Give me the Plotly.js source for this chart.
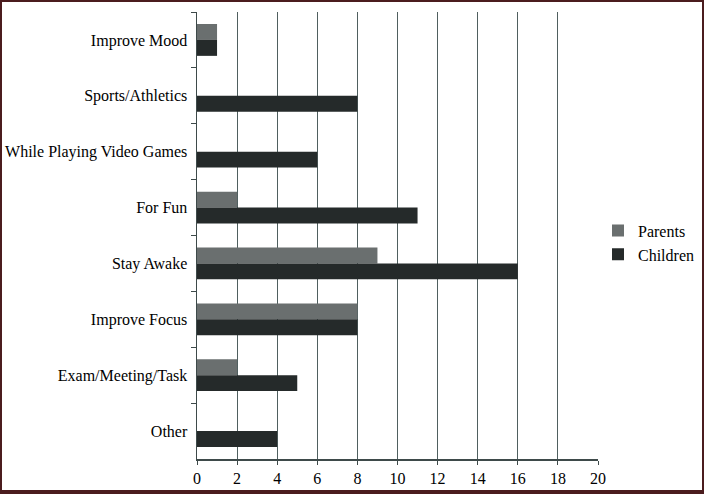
<!DOCTYPE html>
<html>
<head>
<meta charset="utf-8">
<script src="https://cdn.plot.ly/plotly-3.0.1.min.js"></script>
<style>
html,body{margin:0;padding:0;background:#fff;}
#wrap{position:relative;width:704px;height:494px;}
#chart{width:704px;height:494px;}
#frame{position:absolute;left:0;top:0;width:704px;height:494px;box-sizing:border-box;
border-style:solid;border-color:#4b1c1e;border-width:2px 2px 4px 2px;pointer-events:none;}
</style>
</head>
<body>
<div id="wrap"><div id="chart"></div><div id="frame"></div></div>
<script>
const categories = ["Improve Mood","Sports/Athletics","While Playing Video Games","For Fun","Stay Awake","Improve Focus","Exam/Meeting/Task","Other"];
const parents  = [1, 0, 0, 2, 9, 8, 2, 0];
const children = [1, 8, 6, 11, 16, 8, 5, 4];
const xTicks = [0,2,4,6,8,10,12,14,16,18,20];

const serif = "Liberation Serif, Times New Roman, serif";
const traces = [
  {type:"bar", orientation:"h", name:"Parents", y:categories, x:parents,
   marker:{color:"#6a6f6f", line:{width:0}}},
  {type:"bar", orientation:"h", name:"Children", y:categories, x:children,
   marker:{color:"#252a2a", line:{width:0}}}
];
const layout = {
  width:704, height:494,
  margin:{l:197, r:106, t:12, b:35, autoexpand:false},
  paper_bgcolor:"#fff", plot_bgcolor:"#fff",
  barmode:"group", bargap:0.43, bargroupgap:0,
  font:{family:serif, size:16, color:"#000"},
  xaxis:{range:[0,20], tickvals:xTicks, ticktext:xTicks.map(String),
    showgrid:true, gridcolor:"#4f5f5f", gridwidth:1,
    showline:true, linecolor:"#3e4a4a", linewidth:1.5,
    ticks:"outside", ticklen:4, tickcolor:"#3e4a4a",
    zeroline:false, fixedrange:true,
    tickfont:{family:serif, size:16, color:"#000"}},
  yaxis:{type:"category", autorange:"reversed",
    showline:true, linecolor:"#3e4a4a", linewidth:1.5,
    ticks:"outside", ticklen:5, tickcolor:"#3e4a4a", tickson:"boundaries",
    ticklabelstandoff:5, showgrid:false, fixedrange:true,
    tickfont:{family:serif, size:16, color:"#000"}},
  legend:{x:1.0, xanchor:"left", y:0.484, yanchor:"middle",
    font:{family:serif, size:16, color:"#000"}, itemwidth:30,
    bgcolor:"rgba(0,0,0,0)", tracegroupgap:0},
  showlegend:true
};
Plotly.newPlot("chart", traces, layout, {displayModeBar:false, staticPlot:true});
</script>
</body>
</html>
